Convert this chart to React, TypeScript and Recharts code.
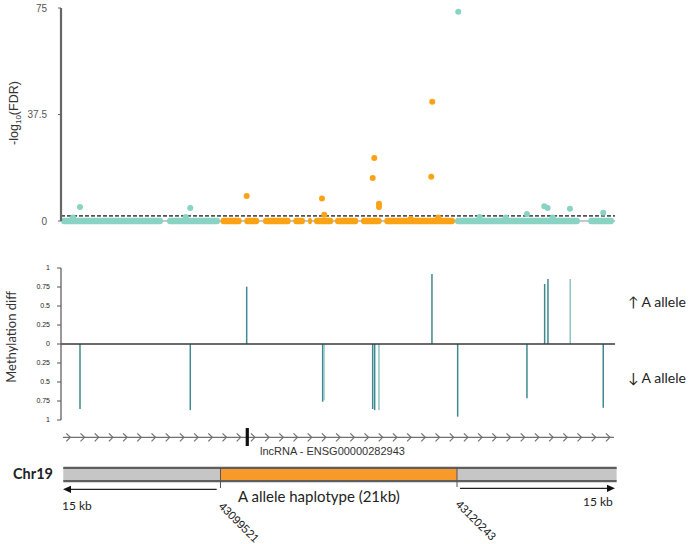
import React from 'react';
import { ComposedChart, Scatter, XAxis, YAxis, ReferenceLine, ReferenceArea } from 'recharts';

// ---------- genomic frame ----------
const X_DOMAIN: [number, number] = [43085549, 43134084];
const HAP_START = 43099521;
const HAP_END = 43120243;

// ---------- top panel: -log10(FDR) ----------
const tealPos = [43086600, 43087213, 43096473, 43096875, 43120352, 43122227, 43124505, 43126370, 43127886, 43128184, 43128622, 43130137, 43133054];
const tealFdr = [1.2, 4.9, 1.4, 4.6, 73.7, 1.4, 1.2, 2.5, 5.2, 4.6, 1.2, 4.3, 2.9];
const orangePos = [43101816, 43108412, 43108614, 43112854, 43112994, 43113406, 43113406, 43116183, 43117987, 43118075, 43118600];
const orangeFdr = [8.8, 7.9, 2.2, 15.1, 22.2, 6.1, 4.9, 0.7, 15.6, 42.0, 1.2];
// runs of non-significant CpGs packed along the baseline (start, end)
const tealRunStart = [43085549, 43094834, 43120063, 43131740];
const tealRunEnd = [43094484, 43099477, 43131013, 43133992];
const orangeRunStart = [43099521, 43101606, 43103244, 43105898, 43107186, 43107712, 43109551, 43111829, 43113870];
const orangeRunEnd = [43101378, 43102920, 43105671, 43106923, 43107536, 43109402, 43111592, 43113642, 43120063];
const FDR_THRESHOLD = 1.8;
const fdrTicks = [0, 37.5, 75];

// ---------- middle panel: methylation diff ----------
const methPos = [43087213, 43096875, 43101816, 43108474, 43112854, 43113029, 43118048, 43120300, 43126370, 43127921, 43128210, 43133054];
const methDiff = [-0.855, -0.87, 0.754, -0.76, -0.855, -0.87, 0.92, -0.956, -0.715, 0.79, 0.855, -0.84];
const methPosB = [43108588, 43113406, 43130163];
const methDiffB = [-0.74, -0.87, 0.855];
const methTicks = [-1, -0.75, -0.5, -0.25, 0, 0.25, 0.5, 0.75, 1];

// ---------- bottom track ----------
const GENE_START = 43085724;
const GENE_END = 43133992;
const LNC_MARK = 43101869;
const CHR_START = 43085750;
const CHR_END = 43134228;
const ARROW_LEFT_FROM = 43099188;
const ARROW_RIGHT_FROM = 43120501;

const TEAL = '#88d3c4';
const ORANGE = '#fba314';
const METH_DARK = '#3f8990';
const METH_LIGHT = '#8fc3c6';
const SANS = 'Liberation Sans, Arial, sans-serif';
const CAL = 'Lato, Open Sans, sans-serif';

const W = 696;
const AXIS_W = 40;
const MARGIN_L = 61 - AXIS_W;
const MARGIN_R = 81;

const tealData = tealPos.map((x, i) => ({ x, y: tealFdr[i] }));
const orangeData = orangePos.map((x, i) => ({ x, y: orangeFdr[i] }));
const methData = methPos.map((x, i) => ({ x, y: methDiff[i] }));
const methDataB = methPosB.map((x, i) => ({ x, y: methDiffB[i] }));

const dot = (color: string) => (p: any) => <circle cx={p.cx} cy={p.cy} r={3} fill={color} />;
const runShape = (color: string) => (p: any) => (
  <rect
    x={Math.min(p.x1, p.x2)}
    y={p.y1 - 3.2}
    width={Math.max(4, Math.abs(p.x2 - p.x1))}
    height={6.4}
    rx={3}
    fill={color}
  />
);
const nothing = () => <g />;

const ChevronTrack = (p: any) => {
  const { x1, x2, y1 } = p;
  const els: any[] = [
    <line key="l" x1={x1} y1={y1} x2={x2} y2={y1} stroke="#707070" strokeWidth={1.3} />,
  ];
  let i = 0;
  for (let x = x1 + 5.3; x < x2 - 2; x += 14.2) {
    els.push(
      <polyline
        key={i++}
        points={`${x - 2},${y1 - 4} ${x + 2},${y1} ${x - 2},${y1 + 4}`}
        fill="none"
        stroke="#707070"
        strokeWidth={1.2}
      />
    );
  }
  return <g>{els}</g>;
};

const Arrow = (p: any) => {
  const { x1, y1, x2, y2 } = p;
  const dir = Math.sign(x2 - x1);
  const len = 8;
  const hw = 3.6;
  return (
    <g>
      <line x1={x1} y1={y1} x2={x2 - dir * len} y2={y2} stroke="#222" strokeWidth={1.3} />
      <polygon points={`${x2},${y2} ${x2 - dir * len},${y2 - hw} ${x2 - dir * len},${y2 + hw}`} fill="#111" />
    </g>
  );
};

const TopChart = () => (
  <ComposedChart width={W} height={240} margin={{ top: 8, right: MARGIN_R, bottom: 19, left: MARGIN_L }}>
    <XAxis type="number" dataKey="x" domain={X_DOMAIN} hide allowDataOverflow />
    <YAxis
      type="number"
      dataKey="y"
      domain={[0, 75]}
      ticks={fdrTicks}
      interval={0}
      width={AXIS_W}
      axisLine={{ stroke: '#666', strokeWidth: 2.2 }}
      tickLine={{ stroke: '#666' }}
      tickSize={3}
      tickMargin={11}
      tick={{ fontSize: 10, fill: '#555', fontFamily: SANS }}
    />
    <ReferenceLine y={0} stroke="#b4b4b4" strokeWidth={1.5} ifOverflow="visible" />
    {tealRunStart.map((s, i) => (
      <ReferenceLine
        key={'t' + i}
        segment={[{ x: s, y: 0 }, { x: tealRunEnd[i], y: 0 }]}
        ifOverflow="visible"
        shape={runShape(TEAL)}
      />
    ))}
    {orangeRunStart.map((s, i) => (
      <ReferenceLine
        key={'o' + i}
        segment={[{ x: s, y: 0 }, { x: orangeRunEnd[i], y: 0 }]}
        ifOverflow="visible"
        shape={runShape(ORANGE)}
      />
    ))}
    <ReferenceLine y={FDR_THRESHOLD} stroke="#555" strokeWidth={1.6} strokeDasharray="4 2" ifOverflow="visible" />
    <Scatter data={tealData} isAnimationActive={false} shape={dot(TEAL)} />
    <Scatter data={orangeData} isAnimationActive={false} shape={dot(ORANGE)} />
  </ComposedChart>
);

const MidChart = () => (
  <ComposedChart width={W} height={190} margin={{ top: 18, right: MARGIN_R, bottom: 20, left: MARGIN_L }}>
    <XAxis type="number" dataKey="x" domain={X_DOMAIN} hide allowDataOverflow />
    <YAxis
      type="number"
      dataKey="y"
      domain={[-1, 1]}
      ticks={methTicks}
      interval={0}
      width={AXIS_W}
      tickFormatter={(v: number) => String(Math.abs(v))}
      axisLine={{ stroke: '#555', strokeWidth: 1.2 }}
      tickLine={{ stroke: '#555' }}
      tickSize={4}
      tickMargin={7}
      tick={{ fontSize: 7, fill: '#222', fontFamily: SANS }}
    />
    {methData.map((d, i) => (
      <ReferenceLine
        key={'m' + i}
        segment={[{ x: d.x, y: 0 }, { x: d.x, y: d.y }]}
        stroke={METH_DARK}
        strokeWidth={1.5}
        ifOverflow="visible"
      />
    ))}
    {methDataB.map((d, i) => (
      <ReferenceLine
        key={'mb' + i}
        segment={[{ x: d.x, y: 0 }, { x: d.x, y: d.y }]}
        stroke={METH_LIGHT}
        strokeWidth={1.5}
        ifOverflow="visible"
      />
    ))}
    <ReferenceLine y={0} stroke="#3a3a3a" strokeWidth={1.5} ifOverflow="visible" />
    <Scatter data={methData} isAnimationActive={false} shape={nothing} />
  </ComposedChart>
);

const BottomChart = () => (
  <ComposedChart width={W} height={124} margin={{ top: 0, right: MARGIN_R, bottom: 0, left: MARGIN_L }}>
    <XAxis type="number" dataKey="x" domain={X_DOMAIN} hide allowDataOverflow />
    <YAxis type="number" dataKey="y" domain={[0, 124]} reversed width={AXIS_W} tick={false} axisLine={false} tickLine={false} allowDataOverflow />
    <ReferenceLine
      segment={[{ x: GENE_START, y: 17.3 }, { x: GENE_END, y: 17.3 }]}
      ifOverflow="visible"
      shape={ChevronTrack}
    />
    <ReferenceArea x1={CHR_START} x2={HAP_START} y1={47} y2={61.5} fill="#c6c6c6" fillOpacity={1} stroke="none" ifOverflow="visible" />
    <ReferenceArea x1={HAP_START} x2={HAP_END} y1={47} y2={61.5} fill="#f89a2a" fillOpacity={1} stroke="none" ifOverflow="visible" />
    <ReferenceArea x1={HAP_END} x2={CHR_END} y1={47} y2={61.5} fill="#c6c6c6" fillOpacity={1} stroke="none" ifOverflow="visible" />
    <ReferenceLine segment={[{ x: CHR_START, y: 47.8 }, { x: CHR_END, y: 47.8 }]} stroke="#5e5e5e" strokeWidth={2.2} ifOverflow="visible" />
    <ReferenceLine segment={[{ x: CHR_START, y: 61.2 }, { x: CHR_END, y: 61.2 }]} stroke="#5e5e5e" strokeWidth={2.2} ifOverflow="visible" />
    <ReferenceLine segment={[{ x: HAP_START, y: 47 }, { x: HAP_START, y: 68 }]} stroke="#555" strokeWidth={1} ifOverflow="visible" />
    <ReferenceLine segment={[{ x: HAP_END, y: 47 }, { x: HAP_END, y: 67 }]} stroke="#555" strokeWidth={1} ifOverflow="visible" />
    <ReferenceLine
      segment={[{ x: ARROW_LEFT_FROM, y: 69.3 }, { x: GENE_START, y: 69.3 }]}
      ifOverflow="visible"
      shape={Arrow}
    />
    <ReferenceLine
      segment={[{ x: ARROW_RIGHT_FROM, y: 68.3 }, { x: X_DOMAIN[1], y: 68.3 }]}
      ifOverflow="visible"
      shape={Arrow}
    />
    <Scatter
      data={[{ x: LNC_MARK, y: 17 }]}
      isAnimationActive={false}
      shape={(p: any) => <rect x={p.cx - 1.6} y={p.cy - 9} width={3.2} height={18} fill="#111" />}
    />
  </ComposedChart>
);

const Labels = () => (
  <svg width={W} height={544} style={{ position: 'absolute', left: 0, top: 0, pointerEvents: 'none' }}>
    <g transform="translate(18,113) rotate(-90)">
      <text x={0} y={0} textAnchor="middle" fontFamily={SANS} fontSize={12.5} fill="#333">
        -log<tspan fontSize={8} dy={3}>10</tspan>
        <tspan dy={-3}>(FDR)</tspan>
      </text>
    </g>
    <g transform="translate(15.5,337) rotate(-90)">
      <text x={0} y={0} textAnchor="middle" fontFamily={CAL} fontSize={13} fill="#333">
        Methylation diff
      </text>
    </g>
    <text x={628} y={307} fontFamily={CAL} fontSize={14} fill="#222">↑ A allele</text>
    <text x={628} y={383} fontFamily={CAL} fontSize={14} fill="#222">↓ A allele</text>
    <text x={260} y={455} fontFamily={SANS} fontSize={11} fill="#333">lncRNA - ENSG00000282943</text>
    <text x={13} y={479} fontFamily={CAL} fontSize={14.5} fontWeight="bold" fill="#222">Chr19</text>
    <text x={62} y={510} fontFamily={CAL} fontSize={12} fill="#222">15 kb</text>
    <text x={583} y={506} fontFamily={CAL} fontSize={12} fill="#222">15 kb</text>
    <text x={238} y={502} fontFamily={CAL} fontSize={15} fill="#222">A allele haplotype (21kb)</text>
    <text x={0} y={0} transform="translate(218,507) rotate(45)" fontFamily={SANS} fontSize={11.5} fill="#222">43099521</text>
    <text x={0} y={0} transform="translate(455,505) rotate(45)" fontFamily={SANS} fontSize={11.5} fill="#222">43120243</text>
  </svg>
);

export default function App() {
  return (
    <div style={{ position: 'absolute', left: 0, top: 0, width: W, height: 544, background: '#fff', overflow: 'hidden' }}>
      <div style={{ position: 'absolute', left: 0, top: 0 }}>
        <TopChart />
      </div>
      <div style={{ position: 'absolute', left: 0, top: 250 }}>
        <MidChart />
      </div>
      <div style={{ position: 'absolute', left: 0, top: 420 }}>
        <BottomChart />
      </div>
      <Labels />
    </div>
  );
}
